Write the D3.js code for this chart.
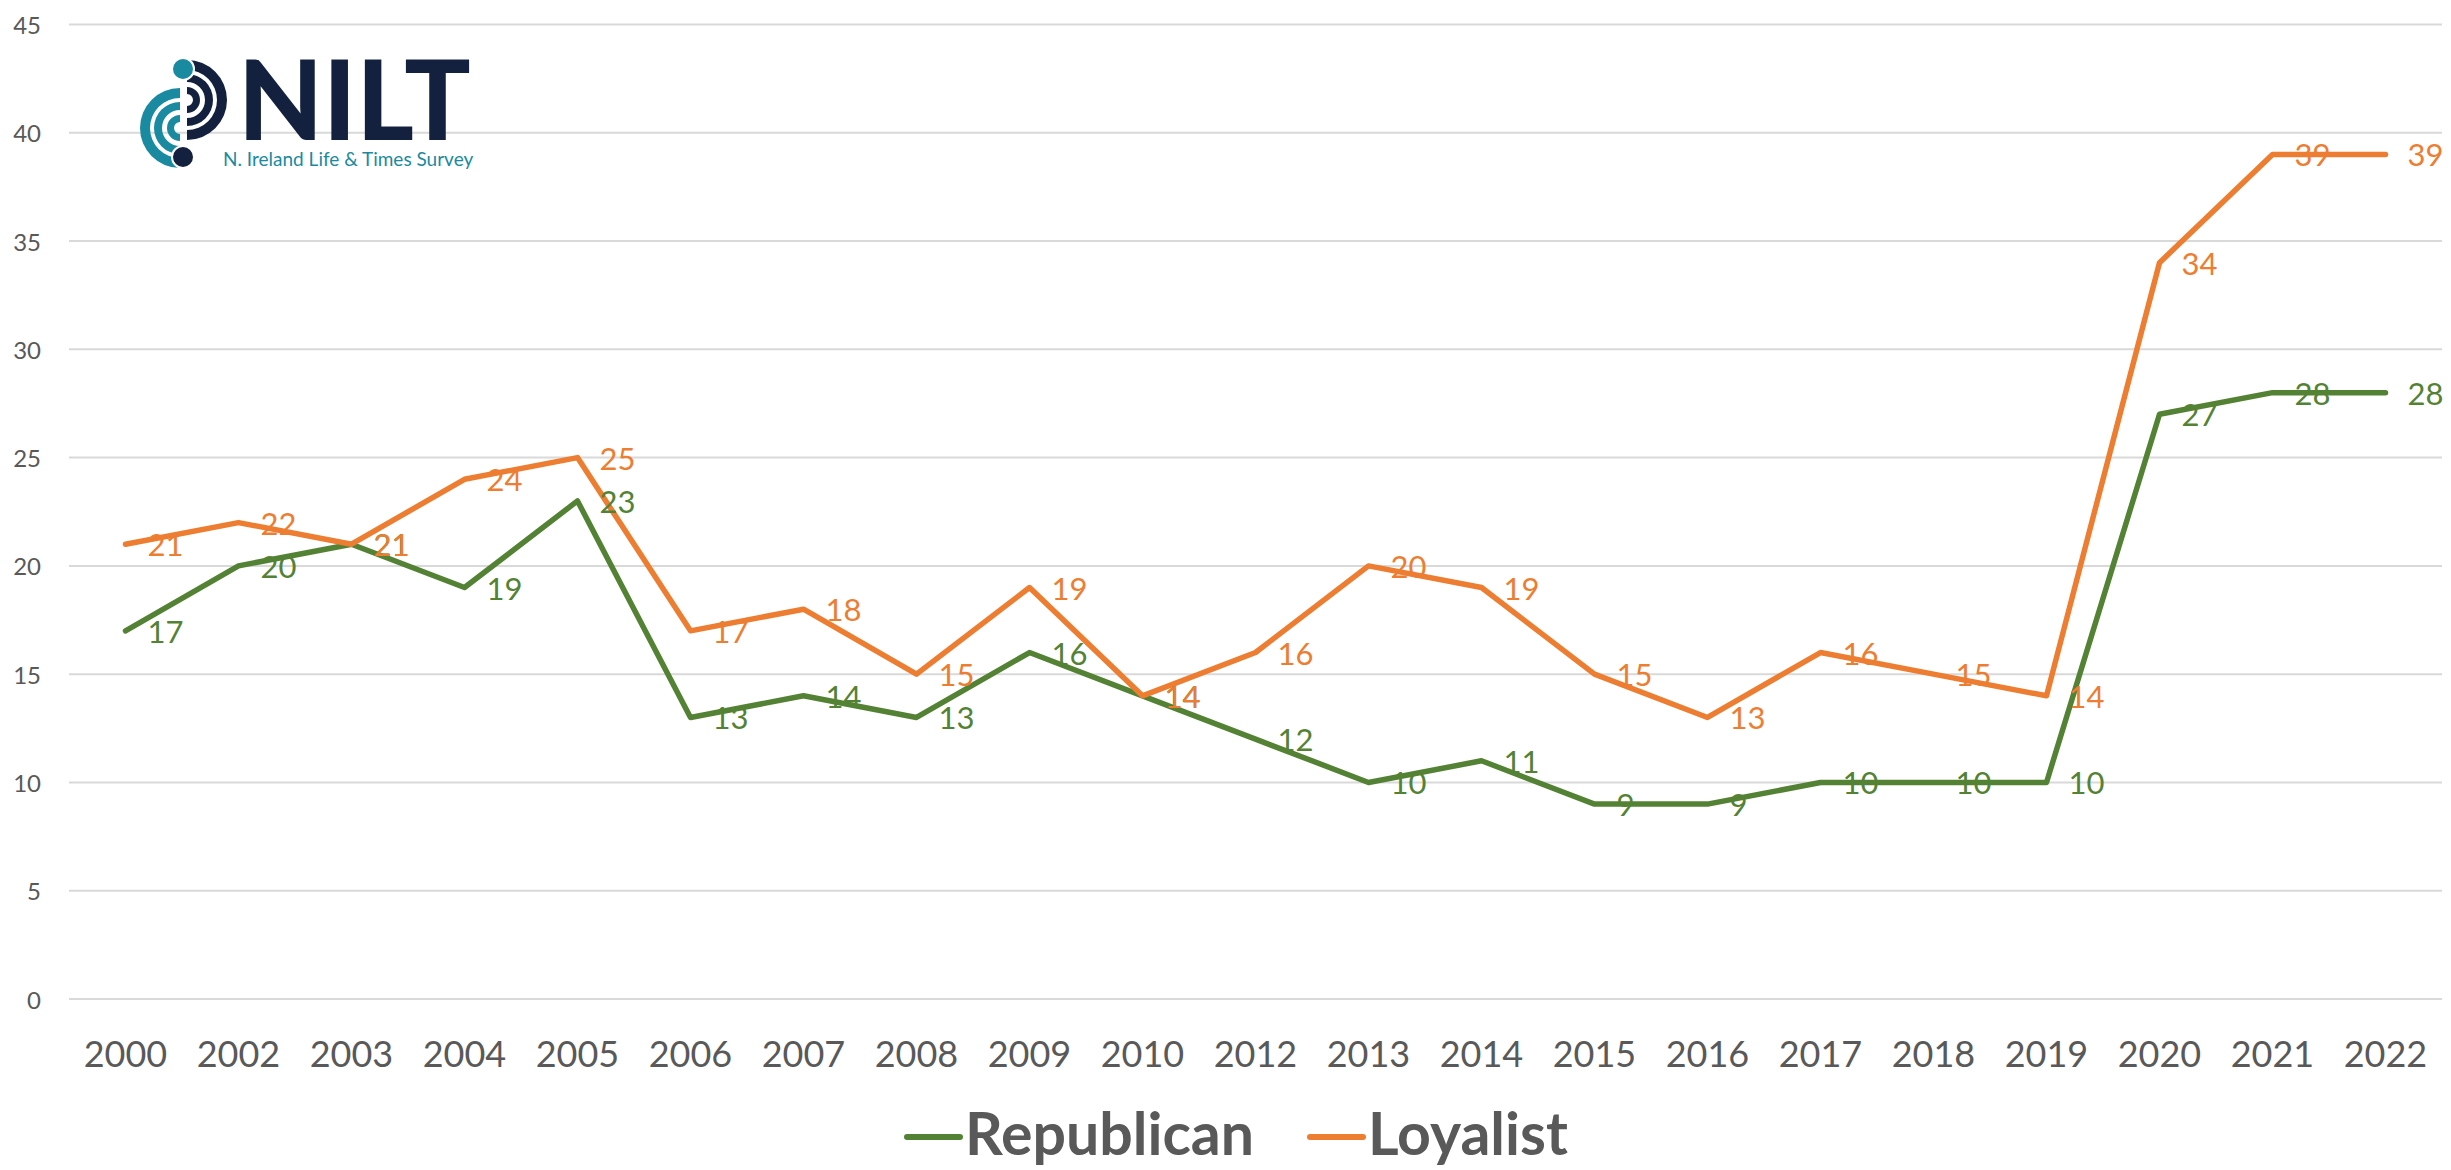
<!DOCTYPE html>
<html>
<head>
<meta charset="utf-8">
<script src="https://cdn.jsdelivr.net/npm/d3@7"></script>
<style>
  html, body { margin: 0; padding: 0; background: #fff; }
  svg { display: block; font-family: Lato, "Open Sans", sans-serif; }
</style>
</head>
<body>
<svg id="chart" width="2451" height="1170"></svg>
<script>
// survey years (2001 and 2011 are missing in the source)
const years = ["2000", "2002", "2003", "2004", "2005", "2006", "2007", "2008", "2009", "2010",
  "2012", "2013", "2014", "2015", "2016", "2017", "2018", "2019", "2020", "2021", "2022"];
const republican = [17, 20, 21, 19, 23, 13, 14, 13, 16, 14, 12, 10, 11, 9, 9, 10, 10, 10, 27, 28, 28];
const loyalist = [21, 22, 21, 24, 25, 17, 18, 15, 19, 14, 16, 20, 19, 15, 13, 16, 15, 14, 34, 39, 39];
const yTicks = [0, 5, 10, 15, 20, 25, 30, 35, 40, 45];
const seriesNames = ["Republican", "Loyalist"];

const greenColor = "#548235";
const orangeColor = "#ED7D31";
const textColor = "#595959";
const gridColor = "#D9D9D9";

const svg = d3.select("#chart");
const plot = { left: 69, right: 2442, top: 24.5, bottom: 999 };

const x = d3.scalePoint()
    .domain(years)
    .range([plot.left, plot.right])
    .padding(0.5);

const y = d3.scaleLinear()
    .domain([0, 45])
    .range([plot.bottom, plot.top]);

// horizontal gridlines
svg.append("g")
    .selectAll("line")
    .data(yTicks)
    .join("line")
    .attr("x1", plot.left)
    .attr("x2", plot.right)
    .attr("y1", d => y(d))
    .attr("y2", d => y(d))
    .attr("stroke", gridColor)
    .attr("stroke-width", 2);

// y axis labels
svg.append("g")
    .selectAll("text")
    .data(yTicks)
    .join("text")
    .attr("x", 41)
    .attr("y", d => y(d))
    .attr("text-anchor", "end")
    .attr("dominant-baseline", "central")
    .style("font-size", "24px")
    .style("fill", textColor)
    .text(d => d);

// x axis labels
svg.append("g")
    .selectAll("text")
    .data(years)
    .join("text")
    .attr("x", d => x(d))
    .attr("y", 1067)
    .attr("text-anchor", "middle")
    .style("font-size", "36px")
    .style("fill", textColor)
    .text(d => d);

const line = d3.line()
    .x((d, i) => x(years[i]))
    .y(d => y(d));

const series = [
    { name: seriesNames[0], values: republican, color: greenColor },
    { name: seriesNames[1], values: loyalist, color: orangeColor }
];

series.forEach(s => {
    svg.append("path")
        .datum(s.values)
        .attr("fill", "none")
        .attr("stroke", s.color)
        .attr("stroke-width", 5.5)
        .attr("stroke-linejoin", "round")
        .attr("stroke-linecap", "round")
        .attr("d", line);
});

// data labels, to the right of each point
series.forEach(s => {
    svg.append("g")
        .selectAll("text")
        .data(s.values)
        .join("text")
        .attr("x", (d, i) => x(years[i]) + 22)
        .attr("y", d => y(d))
        .attr("dominant-baseline", "central")
        .style("font-size", "31px")
        .style("fill", s.color)
        .text(d => d);
});

// legend
const legend = svg.append("g");
const legendX = [907, 1310];
series.forEach((s, i) => {
    legend.append("line")
        .attr("x1", legendX[i])
        .attr("x2", legendX[i] + 53)
        .attr("y1", 1137)
        .attr("y2", 1137)
        .attr("stroke", s.color)
        .attr("stroke-width", 6)
        .attr("stroke-linecap", "round");
    legend.append("text")
        .attr("x", legendX[i] + 58)
        .attr("y", 1155)
        .style("font-size", "59px")
        .style("font-weight", "bold")
        .style("fill", textColor)
        .text(s.name);
});

// NILT logo
const navy = "#13213F";
const teal = "#1A8AA0";
const logo = svg.append("g").attr("transform", "translate(183,0)");
const arc = d3.arc();

[[40, 30], [26, 18], [13, 6]].forEach(r => {
    logo.append("path")
        .attr("transform", "translate(4,100)")
        .attr("fill", navy)
        .attr("d", arc({ innerRadius: r[1], outerRadius: r[0], startAngle: 0, endAngle: Math.PI }));
    logo.append("path")
        .attr("transform", "translate(-3,128)")
        .attr("fill", teal)
        .attr("d", arc({ innerRadius: r[1], outerRadius: r[0], startAngle: Math.PI, endAngle: 2 * Math.PI }));
});
logo.append("circle").attr("cx", 0).attr("cy", 69).attr("r", 11).attr("fill", teal)
    .attr("stroke", "#fff").attr("stroke-width", 2);
logo.append("circle").attr("cx", 0).attr("cy", 157).attr("r", 11).attr("fill", navy)
    .attr("stroke", "#fff").attr("stroke-width", 2);

svg.append("text")
    .attr("x", 238)
    .attr("y", 140)
    .style("font-size", "110px")
    .style("font-weight", "900")
    .style("fill", navy)
    .text("NILT");

svg.append("text")
    .attr("x", 223)
    .attr("y", 166)
    .style("font-size", "19px")
    .style("fill", teal)
    .text("N. Ireland Life & Times Survey");
</script>
</body>
</html>
